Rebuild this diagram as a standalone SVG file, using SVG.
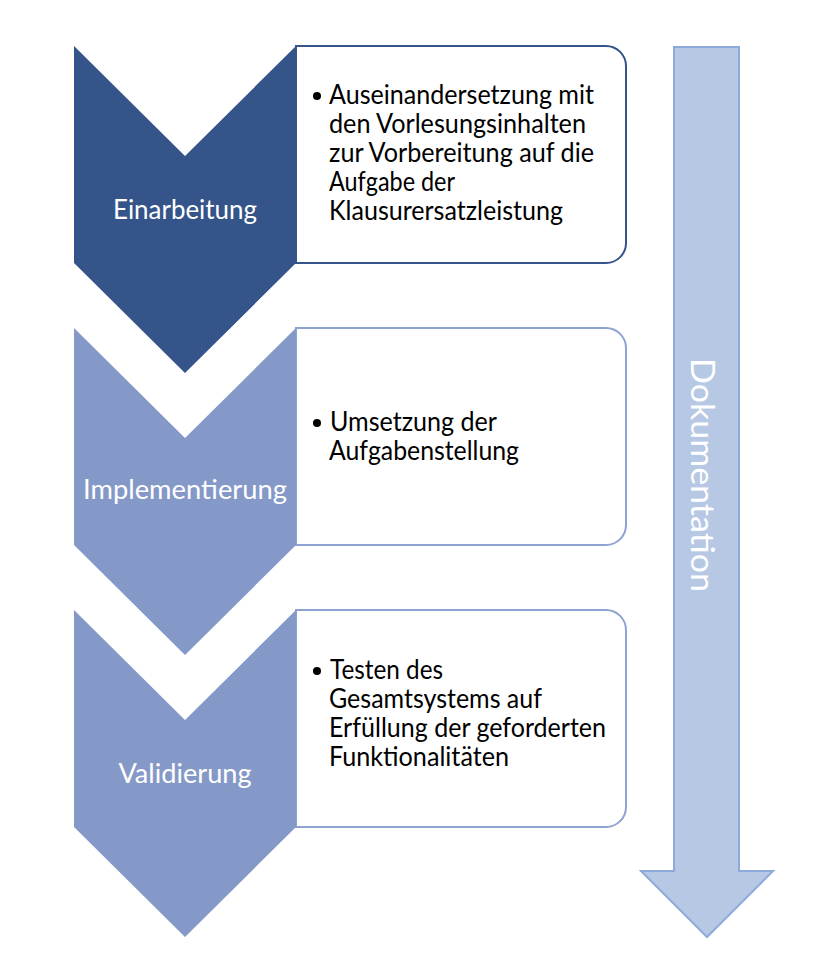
<svg xmlns="http://www.w3.org/2000/svg" width="821" height="961" viewBox="0 0 821 961">
<style>
.dark{fill:#35548A;}
.light{fill:#8599C8;}
.box{fill:#FFFFFF;stroke-width:2;}
.b1{stroke:#35548A;}
.b2{stroke:#8EA2D3;}
.lbl{font-family:Lato,"Liberation Sans",sans-serif;font-size:26px;fill:#FFFFFF;text-anchor:middle;}
.txt{font-family:Lato,"Liberation Sans",sans-serif;font-size:26px;fill:#000000;}
.arrow{fill:#B7C8E4;stroke:#8EAADB;stroke-width:2;}
.doc{font-family:Lato,"Liberation Sans",sans-serif;font-size:32px;fill:#FFFFFF;text-anchor:middle;}
</style>
<rect width="821" height="961" fill="#FFFFFF"/>
<g id="dokumentation">
<path class="arrow" d="M674,47 H739 V871 H773 L707,937 L641,871 H674 Z"/>
<text class="doc" transform="translate(691,475) rotate(90)" textLength="234" lengthAdjust="spacingAndGlyphs">Dokumentation</text>
</g>
<g id="box1">
<path class="box b1" d="M296,46 H606 A20,20 0 0 1 626,66 V243 A20,20 0 0 1 606,263 H296 Z"/>
<circle cx="317" cy="96" r="4" fill="#000"/>
<text class="txt" x="329" y="104" textLength="265" lengthAdjust="spacingAndGlyphs">Auseinandersetzung mit</text>
<text class="txt" x="329" y="133" textLength="257" lengthAdjust="spacingAndGlyphs">den Vorlesungsinhalten</text>
<text class="txt" x="329" y="162" textLength="265" lengthAdjust="spacingAndGlyphs">zur Vorbereitung auf die</text>
<text class="txt" x="329" y="191" textLength="126" lengthAdjust="spacingAndGlyphs">Aufgabe der</text>
<text class="txt" x="329" y="220" textLength="234" lengthAdjust="spacingAndGlyphs">Klausurersatzleistung</text>
</g>
<g id="box2">
<path class="box b2" d="M296,328 H606 A20,20 0 0 1 626,348 V525 A20,20 0 0 1 606,545 H296 Z"/>
<circle cx="317" cy="423" r="4" fill="#000"/>
<text class="txt" x="330" y="431" textLength="167" lengthAdjust="spacingAndGlyphs">Umsetzung der</text>
<text class="txt" x="329" y="460" textLength="190" lengthAdjust="spacingAndGlyphs">Aufgabenstellung</text>
</g>
<g id="box3">
<path class="box b2" d="M296,610 H606 A20,20 0 0 1 626,630 V807 A20,20 0 0 1 606,827 H296 Z"/>
<circle cx="317" cy="671" r="4" fill="#000"/>
<text class="txt" x="330" y="679" textLength="113" lengthAdjust="spacingAndGlyphs">Testen des</text>
<text class="txt" x="329" y="708" textLength="213" lengthAdjust="spacingAndGlyphs">Gesamtsystems auf</text>
<text class="txt" x="329" y="737" textLength="277" lengthAdjust="spacingAndGlyphs">Erfüllung der geforderten</text>
<text class="txt" x="329" y="766" textLength="180" lengthAdjust="spacingAndGlyphs">Funktionalitäten</text>
</g>
<g id="einarbeitung">
<path class="dark" d="M74,46 L185,156 L296,46 V263 L185,373 L74,263 Z"/>
<text class="lbl" x="185" y="219" textLength="144" lengthAdjust="spacingAndGlyphs">Einarbeitung</text>
</g>
<g id="implementierung">
<path class="light" d="M74,328 L185,438 L296,328 V545 L185,655 L74,545 Z"/>
<text class="lbl" x="185" y="499" textLength="204" lengthAdjust="spacingAndGlyphs">Implementierung</text>
</g>
<g id="validierung">
<path class="light" d="M74,610 L185,720 L296,610 V827 L185,937 L74,827 Z"/>
<text class="lbl" x="185" y="783" textLength="133" lengthAdjust="spacingAndGlyphs">Validierung</text>
</g>
<g id="connectors"></g>
</svg>
